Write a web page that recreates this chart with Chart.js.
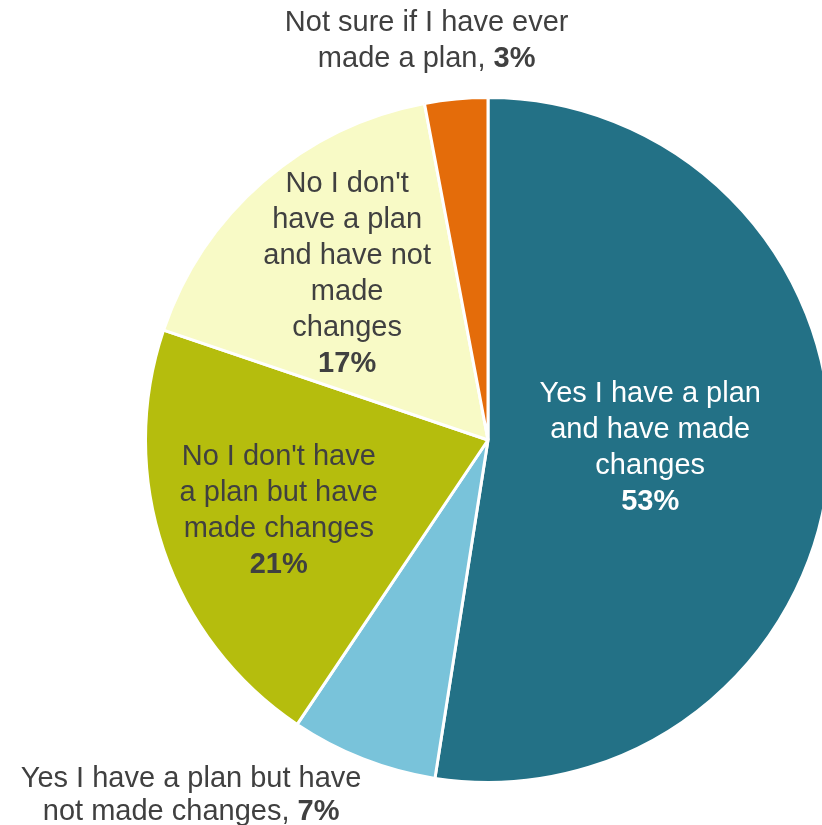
<!DOCTYPE html>
<html>
<head>
<meta charset="utf-8">
<script src="https://cdn.jsdelivr.net/npm/chart.js@4.4.0/dist/chart.umd.min.js"></script>
<style>
  html, body { margin: 0; padding: 0; background: #fff; overflow: hidden; }
  #wrap { width: 822px; height: 825px; overflow: hidden; position: relative; }
  #wrap canvas { position: absolute; left: 0; top: 0; }
</style>
</head>
<body>
<div id="wrap"><canvas id="pie" width="976" height="880"></canvas></div>
<script>
// data, clockwise from 12 o'clock
const categories = [
  ['Yes I have a plan', 'and have made', 'changes'],
  ['Yes I have a plan but have', 'not made changes,'],
  ["No I don't have", 'a plan but have', 'made changes'],
  ["No I don't", 'have a plan', 'and have not', 'made', 'changes'],
  ['Not sure if I have ever', 'made a plan,']
];
const shares = [53, 7, 21, 17, 3];
const sliceColors = ['#237186', '#79C3DA', '#B5BD0D', '#F8FAC6', '#E46C0A'];
const labelColors = ['#ffffff', '#404040', '#404040', '#404040', '#404040'];

// where each label sits: radial distance (fraction of radius), extra shift, inline pct or not
const labelPlace = [
  { r: 0.475, dx: 0, dy: -5, lh: 36, inline: false },
  { r: 1.16, dx: -152, dy: -14, lh: 33, inline: true },
  { r: 0.645, dx: 0, dy: 0, lh: 36, inline: false },
  { r: 0.627, dx: 0, dy: -4, lh: 36, inline: false },
  { r: 1.17, dx: -24, dy: 0, lh: 36, inline: true }
];

const FONT = '"Liberation Sans", Arial, sans-serif';
const FS = 29;

const pieLabels = {
  id: 'pieLabels',
  afterDatasetsDraw(chart) {
    const ctx = chart.ctx;
    const meta = chart.getDatasetMeta(0);
    meta.data.forEach((arc, i) => {
      const p = arc.getProps(['x', 'y', 'startAngle', 'endAngle', 'outerRadius']);
      const mid = (p.startAngle + p.endAngle) / 2;
      const pl = labelPlace[i];
      const cx = p.x + Math.cos(mid) * p.outerRadius * pl.r + pl.dx;
      const cy = p.y + Math.sin(mid) * p.outerRadius * pl.r + pl.dy;
      const lines = categories[i];
      const pct = shares[i] + '%';
      const n = pl.inline ? lines.length : lines.length + 1;
      let y = cy - (n - 1) * pl.lh / 2;
      ctx.save();
      ctx.fillStyle = labelColors[i];
      ctx.textBaseline = 'middle';
      lines.forEach((ln, k) => {
        if (pl.inline && k === lines.length - 1) {
          ctx.font = FS + 'px ' + FONT;
          const w1 = ctx.measureText(ln + ' ').width;
          ctx.font = 'bold ' + FS + 'px ' + FONT;
          const w2 = ctx.measureText(pct).width;
          const x0 = cx - (w1 + w2) / 2;
          ctx.textAlign = 'left';
          ctx.font = FS + 'px ' + FONT;
          ctx.fillText(ln + ' ', x0, y);
          ctx.font = 'bold ' + FS + 'px ' + FONT;
          ctx.fillText(pct, x0 + w1, y);
        } else {
          ctx.textAlign = 'center';
          ctx.font = FS + 'px ' + FONT;
          ctx.fillText(ln, cx, y);
        }
        y += pl.lh;
      });
      if (!pl.inline) {
        ctx.textAlign = 'center';
        ctx.font = 'bold ' + FS + 'px ' + FONT;
        ctx.fillText(pct, cx, y);
      }
      ctx.restore();
    });
  }
};

new Chart(document.getElementById('pie'), {
  type: 'pie',
  data: {
    labels: categories.map(c => c.join(' ')),
    datasets: [{
      data: shares,
      backgroundColor: sliceColors,
      borderColor: '#ffffff',
      borderWidth: 3
    }]
  },
  options: {
    responsive: false,
    animation: false,
    layout: { padding: { top: 96, bottom: 96, left: 0, right: 0 } },
    plugins: {
      legend: { display: false },
      tooltip: { enabled: false }
    }
  },
  plugins: [pieLabels]
});
</script>
</body>
</html>
